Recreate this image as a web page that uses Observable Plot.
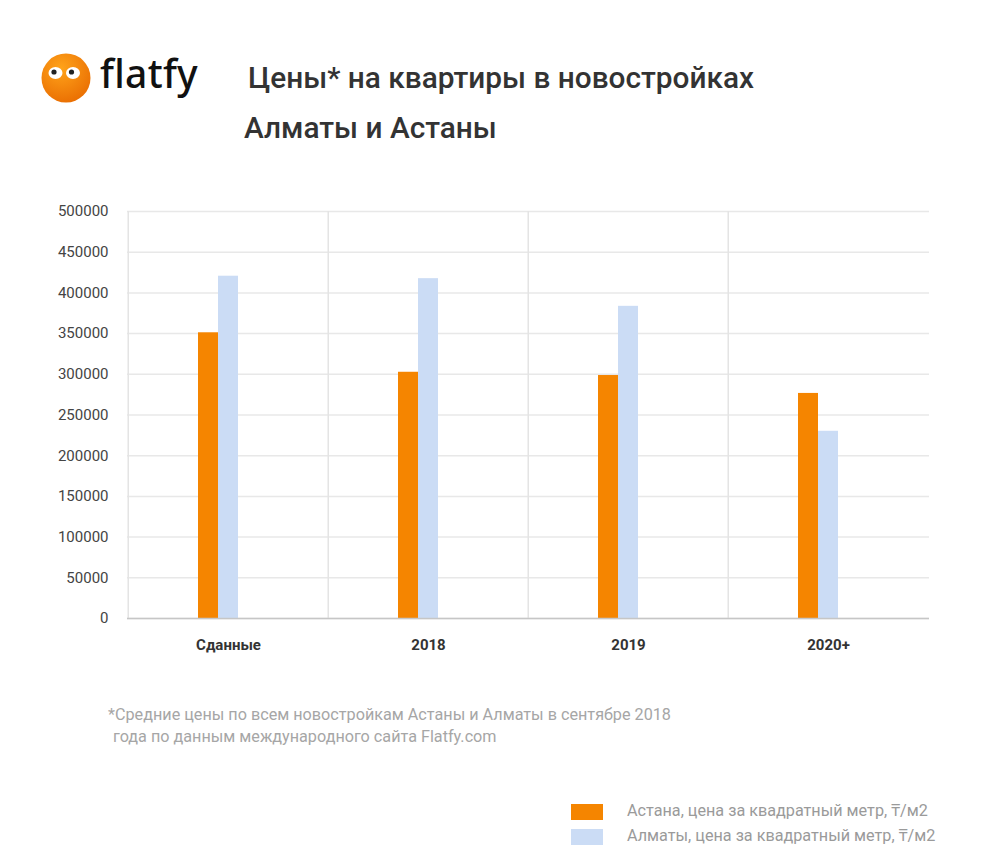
<!DOCTYPE html>
<html>
<head>
<meta charset="utf-8">
<script src="https://cdn.jsdelivr.net/npm/d3@7"></script>
<script src="https://cdn.jsdelivr.net/npm/@observablehq/plot@0.6"></script>
<style>
  html, body { margin: 0; padding: 0; background: #fff; }
  #page { position: relative; width: 989px; height: 851px; overflow: hidden; font-family: Roboto, "Noto Sans", sans-serif; }
  .title { position: absolute; color: #333; font-size: 29.8px; font-weight: 500; white-space: nowrap; line-height: 1; }
  .note { position: absolute; color: #a6a6a6; font-size: 16.2px; white-space: nowrap; line-height: 1; }
  .leg { position: absolute; color: #9a9a9a; font-size: 16.2px; white-space: nowrap; line-height: 1; }
  .sw { position: absolute; width: 32px; height: 16px; }
  #chart { position: absolute; left: 0; top: 190px; }
</style>
</head>
<body>
<div id="page">
  <svg style="position:absolute;left:38px;top:50px" width="60" height="60" viewBox="0 0 60 60">
    <defs>
      <radialGradient id="lg" cx="0.4" cy="0.3" r="0.8">
        <stop offset="0" stop-color="#ffa31a"/>
        <stop offset="1" stop-color="#e86a00"/>
      </radialGradient>
    </defs>
    <circle cx="28" cy="28" r="24.5" fill="url(#lg)"/>
    <ellipse cx="17.5" cy="23" rx="7" ry="6" fill="#fff"/>
    <ellipse cx="35" cy="23" rx="7" ry="6" fill="#fff"/>
    <circle cx="16" cy="22" r="2.6" fill="#222"/>
    <circle cx="33.5" cy="22" r="2.6" fill="#222"/>
  </svg>
  <div style="position:absolute;left:100px;top:53px;font-family:'Noto Sans',sans-serif;font-size:39px;font-weight:500;color:#111;line-height:1;letter-spacing:0.3px">flatfy</div>

  <div class="title" style="left:248px;top:63px">Цены* на квартиры в новостройках</div>
  <div class="title" style="left:244px;top:113px">Алматы и Астаны</div>

  <div id="chart"></div>

  <div class="note" style="left:108px;top:707px">*Средние цены по всем новостройкам Астаны и Алматы в сентябре 2018</div>
  <div class="note" style="left:113px;top:729px">года по данным международного сайта Flatfy.com</div>

  <div class="sw" style="left:571px;top:804px;background:#f58500"></div>
  <div class="leg" style="left:627px;top:803px">Астана, цена за квадратный метр, ₸/м2</div>
  <div class="sw" style="left:571px;top:829px;background:#cbdcf5"></div>
  <div class="leg" style="left:627px;top:828px">Алматы, цена за квадратный метр, ₸/м2</div>
</div>
<script>
const categories = ["Сданные", "2018", "2019", "2020+"];
const seriesNames = ["Астана", "Алматы"];
const astana = [351000, 302500, 298500, 276500];
const almaty = [420500, 417500, 383500, 230000];
const yTicks = [0, 50000, 100000, 150000, 200000, 250000, 300000, 350000, 400000, 450000, 500000];
const colors = ["#f58500", "#cbdcf5"];

const rows = categories.flatMap((c, i) => [
  {cat: c, series: seriesNames[0], v: astana[i]},
  {cat: c, series: seriesNames[1], v: almaty[i]}
]);

const W = 989, H = 478, mL = 127, mR = 60;
const step = (W - mL - mR) / categories.length;

const chart = Plot.plot({
  width: W,
  height: H,
  marginTop: 21,
  marginBottom: 50,
  marginLeft: mL,
  marginRight: mR,
  style: {fontFamily: "Roboto, sans-serif", background: "transparent"},
  x: {type: "band", domain: categories, paddingInner: 0.8, paddingOuter: 0.4, label: null},
  y: {domain: [0, 500000], label: null},
  marks: [
    Plot.gridY(yTicks, {stroke: "#e8e8e8", strokeOpacity: 1, strokeWidth: 1.5}),
    Plot.gridX(categories, {dx: -step / 2, stroke: "#e4e4e4", strokeOpacity: 1, strokeWidth: 1.5}),
    Plot.barY(rows.filter(d => d.series === seriesNames[0]), {x: "cat", y: "v", fill: colors[0], insetRight: 20, dx: -10}),
    Plot.barY(rows.filter(d => d.series === seriesNames[1]), {x: "cat", y: "v", fill: colors[1], insetLeft: 20, dx: -10}),
    Plot.ruleY([0], {stroke: "#c6c6c6", strokeWidth: 1.5}),
    Plot.axisY(yTicks, {tickSize: 0, tickPadding: 19, tickFormat: d3.format("d"), fontSize: 15, fill: "#444", label: null}),
    Plot.axisX({tickSize: 0, tickPadding: 21, fontSize: 15, fontWeight: "bold", fill: "#333", label: null})
  ]
});
document.getElementById("chart").appendChild(chart);
</script>
</body>
</html>
